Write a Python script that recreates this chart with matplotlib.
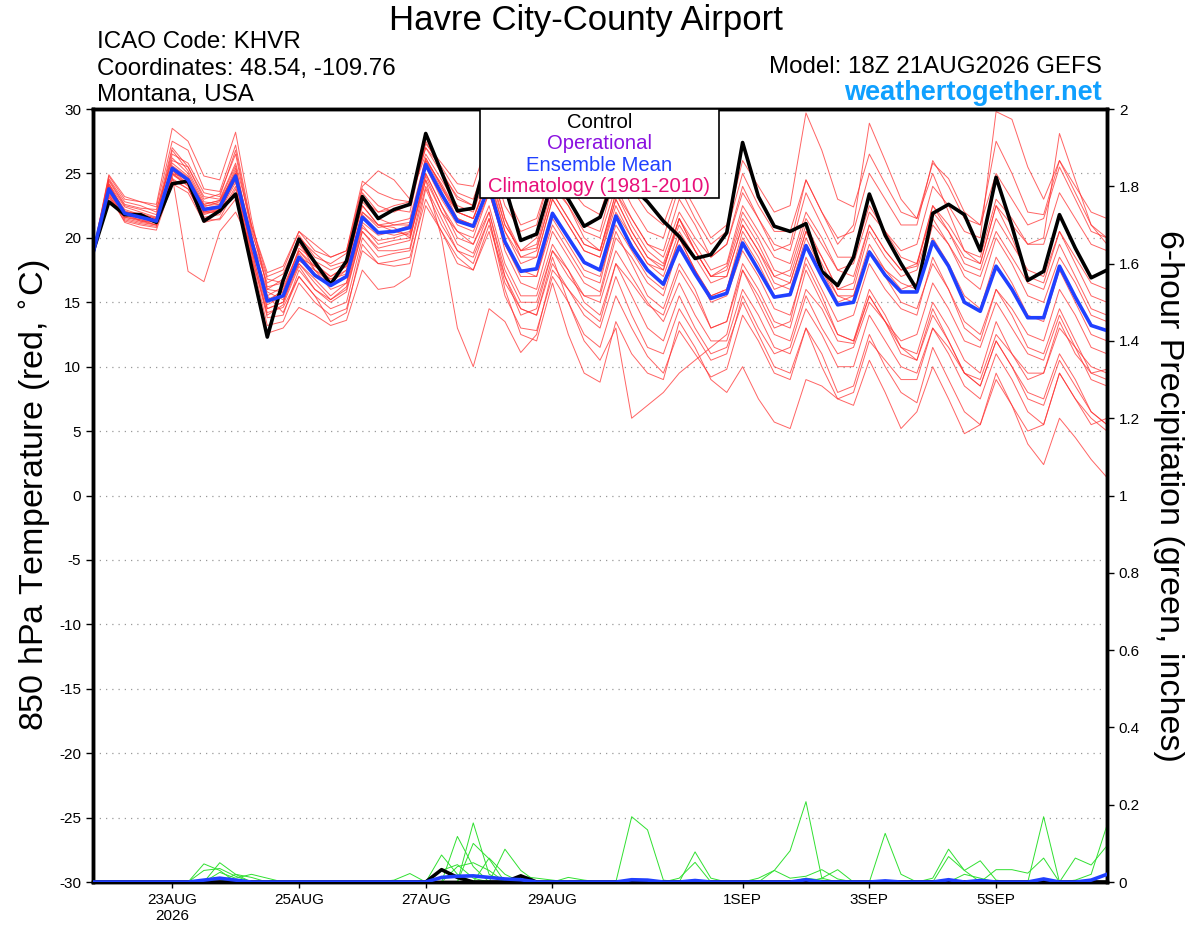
import numpy as np
import pandas as pd
import matplotlib
matplotlib.use('Agg')
import matplotlib.pyplot as plt
from matplotlib.patches import Rectangle

plt.rcParams['font.family'] = ['Liberation Sans', 'DejaVu Sans']
plt.rcParams['axes.unicode_minus'] = False

# 6-hourly forecast times, 18Z 21AUG2026 .. 18Z 06SEP2026
times = pd.date_range('2026-08-21 18:00', periods=65, freq='6h')

tick_dates = ['2026-08-23', '2026-08-25', '2026-08-27', '2026-08-29',
              '2026-09-01', '2026-09-03', '2026-09-05']
tick_labels = ['23AUG\n2026', '25AUG', '27AUG', '29AUG', '1SEP', '3SEP', '5SEP']

# control run, 850 hPa temperature (C)
control_t = [18.9, 22.8, 21.8, 21.8, 21.2, 24.2, 24.4, 21.3, 22.1, 23.4, 17.8,
             12.3, 16.7, 19.9, 18.1, 16.4, 18.2, 23.2, 21.5, 22.2, 22.6,
             28.1, 25.1, 22.1, 22.3, 27.0, 24.0, 19.8, 20.3, 24.5, 23.0, 20.9, 21.6, 25.0, 24.0,
             22.8, 21.3, 20.1, 18.4, 18.7, 20.4,
             27.4, 23.2, 20.9, 20.5, 21.1, 17.4, 16.3, 18.5, 23.4, 20.2, 18.0, 16.0,
             21.9, 22.6, 21.8, 19.0, 24.7, 20.9, 16.7, 17.4, 21.8, 19.2, 16.9, 17.5]

# ensemble mean, 850 hPa temperature (C)
mean_t = [18.8, 23.8, 21.9, 21.6, 21.3, 25.4, 24.5, 22.2, 22.4, 24.8, 19.8,
          15.1, 15.5, 18.5, 17.1, 16.3, 17.0, 21.6, 20.4, 20.5, 20.8,
          25.7, 23.4, 21.3, 20.9, 24.0, 19.7, 17.4, 17.6, 21.9, 20.0, 18.1, 17.5, 21.7, 19.3,
          17.5, 16.4, 19.3, 17.2, 15.3, 15.7,
          19.6, 17.5, 15.4, 15.6, 19.4, 17.0, 14.8, 15.0, 18.9, 17.1, 15.8, 15.8,
          19.7, 17.8, 15.0, 14.3, 17.8, 16.0, 13.8, 13.8, 17.8, 15.4, 13.2, 12.8]

# ensemble members, 850 hPa temperature (C)
members_t = [
    [18.9, 24.6, 22.8, 22.5, 22.0, 27.0, 25.5, 23.0, 23.4, 26.5, 20.5,
     16.8, 16.5, 20.2, 18.5, 18.0, 18.8, 23.8, 22.5, 22.0, 22.6,
     27.3, 25.8, 24.2, 24.0, 27.8, 23.5, 21.0, 21.5, 25.4, 24.0, 22.5, 21.8, 26.0, 23.8, 22.0, 21.0, 24.5, 22.3, 20.0, 21.0,
     26.0, 24.0, 22.0, 22.5, 29.7, 26.8, 23.0, 22.4, 26.5, 24.2, 22.0, 21.5, 25.8, 24.6, 22.0, 21.0, 27.5, 25.0, 22.0, 21.8, 26.0, 23.5, 21.0, 20.0],
    [18.7, 23.2, 21.3, 21.0, 20.8, 24.6, 23.8, 21.6, 21.8, 24.0, 18.5,
     13.2, 13.5, 16.5, 15.0, 14.0, 14.5, 19.0, 18.0, 18.2, 18.5,
     23.0, 20.5, 18.5, 17.5, 20.5, 15.5, 13.0, 12.8, 17.0, 15.0, 12.5, 11.5, 15.5, 13.0, 10.8, 9.5, 12.8, 11.0, 9.2, 9.8,
     14.0, 12.0, 9.5, 9.0, 13.0, 11.0, 8.0, 8.5, 12.5, 10.0, 8.0, 7.2, 11.5, 9.0, 6.5, 5.5, 9.5, 7.0, 4.0, 2.4, 6.0, 4.5, 2.8, 1.4],
    [18.8, 24.2, 22.0, 21.9, 21.5, 25.8, 24.8, 22.5, 22.6, 25.2, 20.0,
     14.5, 15.0, 18.0, 16.8, 15.5, 16.5, 21.0, 19.5, 19.8, 20.0,
     24.8, 22.0, 19.5, 18.8, 22.0, 17.0, 14.5, 14.0, 18.5, 15.0, 12.0, 10.5, 13.0, 6.0, 7.0, 8.0, 9.5, 10.5, 11.5, 12.5,
     17.5, 15.0, 12.5, 12.0, 16.0, 14.5, 12.0, 11.8, 15.5, 13.5, 11.5, 11.0, 15.0, 13.0, 10.5, 9.5, 13.5, 11.0, 9.0, 9.5, 13.5, 11.0, 9.5, 9.8],
    [18.8, 23.5, 21.5, 21.2, 21.0, 24.8, 17.4, 16.6, 20.5, 22.0, 19.5,
     16.0, 16.8, 19.5, 18.0, 17.0, 17.8, 22.5, 21.0, 21.2, 21.5,
     26.2, 24.0, 22.0, 21.5, 24.5, 20.5, 18.0, 18.5, 23.0, 21.0, 19.0, 18.5, 23.0, 20.5, 18.5, 17.8, 21.0, 19.0, 17.0, 17.8,
     22.0, 20.0, 17.5, 17.0, 21.0, 18.5, 16.0, 16.5, 21.0, 19.0, 17.5, 17.8, 22.5, 20.5, 18.0, 17.5, 21.5, 19.5, 17.5, 17.0, 20.5, 18.5, 16.5, 16.0],
    [18.9, 24.0, 22.2, 21.8, 21.4, 25.2, 24.2, 22.0, 22.2, 24.5, 19.0,
     15.8, 15.2, 18.2, 17.5, 16.8, 17.2, 22.0, 21.0, 20.8, 20.0,
     24.5, 20.0, 13.0, 10.0, 14.5, 13.5, 11.1, 12.5, 17.5, 16.0, 14.5, 13.5, 18.0, 16.5, 14.8, 14.0, 17.5, 15.5, 13.0, 13.5,
     18.0, 16.0, 13.5, 13.0, 17.5, 15.0, 12.5, 12.0, 16.0, 14.0, 11.5, 10.5, 14.5, 12.0, 9.5, 8.5, 12.0, 10.0, 8.0, 7.5, 11.0, 9.0, 6.5, 5.5],
    [18.8, 23.6, 21.8, 21.5, 21.2, 25.0, 24.6, 22.4, 22.8, 25.0, 20.2,
     15.5, 14.2, 17.0, 15.5, 14.5, 15.0, 20.0, 18.5, 18.8, 19.0,
     24.0, 21.5, 19.0, 18.0, 21.5, 16.0, 12.5, 12.0, 16.5, 12.5, 9.5, 8.8, 13.5, 11.0, 9.5, 9.0, 13.5, 11.5, 9.0, 8.0,
     10.0, 7.5, 5.7, 5.2, 9.0, 8.5, 7.5, 8.0, 12.0, 10.5, 9.0, 9.0, 13.0, 11.5, 9.5, 9.0, 12.5, 11.0, 9.5, 9.5, 13.0, 11.5, 10.0, 9.5],
    [18.7, 24.4, 22.5, 22.2, 21.8, 26.2, 25.0, 22.6, 22.9, 25.6, 19.8,
     15.0, 16.0, 19.0, 17.8, 16.8, 17.5, 22.0, 20.8, 21.0, 21.2,
     26.0, 24.2, 22.0, 21.5, 25.0, 21.0, 19.0, 19.2, 23.5, 21.5, 19.5, 19.0, 23.5, 21.0, 19.0, 18.0, 21.5, 19.5, 17.5, 18.0,
     22.5, 20.5, 18.5, 18.0, 22.0, 20.0, 17.5, 18.0, 22.0, 20.5, 19.0, 19.5, 24.0, 22.5, 20.5, 20.0, 29.8, 29.2, 25.5, 23.0, 26.0, 24.0, 22.0, 21.5],
    [18.8, 24.0, 22.0, 21.7, 21.6, 26.5, 25.8, 23.5, 23.2, 26.8, 20.8,
     16.2, 16.5, 19.8, 17.5, 16.5, 17.5, 23.0, 22.0, 22.5, 22.8,
     27.0, 25.0, 23.2, 22.5, 26.0, 21.5, 19.0, 19.5, 24.0, 22.5, 20.0, 19.0, 23.5, 21.5, 19.5, 18.5, 22.0, 20.0, 18.5, 19.5,
     24.0, 21.5, 19.0, 19.5, 24.5, 22.0, 19.5, 21.0, 28.9, 26.0, 23.0, 21.5, 25.0, 22.0, 19.0, 18.0, 22.5, 20.0, 17.0, 16.5, 20.5, 18.0, 15.5, 15.0],
    [18.9, 23.9, 21.7, 21.4, 21.2, 25.6, 24.7, 22.0, 22.0, 24.3, 19.2,
     14.0, 14.8, 17.8, 16.0, 15.0, 15.8, 20.5, 19.2, 19.5, 19.8,
     25.0, 22.5, 20.0, 19.5, 22.5, 18.0, 15.5, 15.5, 19.5, 17.5, 15.0, 14.0, 18.0, 15.5, 13.0, 12.0, 15.5, 13.0, 11.0, 11.5,
     15.0, 12.5, 10.0, 9.5, 13.0, 10.0, 7.5, 7.0, 10.5, 8.0, 5.2, 6.5, 10.0, 7.5, 4.8, 5.5, 9.0, 7.0, 5.0, 5.5, 9.5, 7.5, 6.0, 5.0],
    [18.8, 23.3, 21.6, 21.4, 21.0, 25.0, 24.0, 21.8, 22.2, 24.6, 19.6,
     15.2, 15.8, 18.8, 17.2, 16.5, 17.0, 21.8, 20.5, 20.2, 20.5,
     25.5, 23.0, 21.0, 20.5, 23.5, 19.5, 17.5, 17.5, 22.0, 20.0, 18.0, 17.5, 22.0, 20.0, 18.0, 17.0, 20.5, 18.5, 16.5, 17.0,
     21.0, 19.0, 17.0, 17.5, 21.5, 19.5, 17.5, 17.0, 21.0, 19.0, 17.5, 18.0, 22.0, 20.5, 18.5, 18.0, 22.5, 21.0, 19.5, 20.0, 28.1, 24.5, 21.0, 19.5],
    [18.8, 23.4, 21.2, 20.8, 20.6, 24.2, 23.5, 21.2, 21.5, 23.8, 18.8,
     13.8, 14.0, 17.5, 16.0, 15.2, 16.0, 20.5, 19.0, 19.0, 19.2,
     24.5, 22.0, 20.5, 19.5, 22.0, 17.5, 15.0, 15.0, 19.0, 17.0, 15.5, 15.0, 19.0, 17.0, 15.0, 13.5, 16.5, 14.0, 12.0, 12.0,
     16.0, 14.0, 11.5, 11.0, 14.5, 12.5, 10.0, 10.0, 14.0, 12.0, 10.0, 9.5, 13.0, 11.0, 8.5, 7.5, 11.0, 9.0, 6.5, 5.5, 9.5, 7.5, 5.5, 6.0],
    [18.8, 24.8, 23.0, 22.8, 22.4, 27.5, 26.8, 23.8, 23.6, 27.2, 21.0,
     17.0, 17.5, 20.5, 19.0, 18.5, 19.0, 24.4, 23.5, 23.0, 22.8,
     27.0, 25.5, 23.5, 23.0, 26.5, 22.5, 20.5, 21.0, 25.5, 23.0, 21.0, 20.5, 25.0, 22.5, 20.5, 20.0, 24.0, 21.5, 19.5, 20.5,
     25.0, 22.5, 20.5, 20.5, 24.5, 22.0, 20.0, 20.5, 25.0, 23.0, 21.0, 21.0, 26.0, 24.0, 21.5, 21.0, 25.0, 23.0, 21.0, 21.5, 25.5, 23.0, 20.5, 20.0],
    [18.8, 24.2, 22.4, 22.0, 21.6, 26.8, 25.2, 22.8, 22.6, 25.4, 20.2,
     14.8, 15.5, 18.0, 16.5, 15.2, 16.2, 20.8, 19.8, 20.0, 20.4,
     25.8, 23.5, 21.5, 21.0, 24.2, 19.0, 16.5, 16.0, 20.5, 18.5, 16.5, 15.8, 20.5, 18.0, 15.5, 14.5, 18.0, 16.0, 13.0, 13.5,
     17.5, 15.5, 13.0, 13.5, 18.5, 16.0, 13.5, 14.0, 18.0, 16.0, 14.5, 14.0, 18.5, 16.0, 13.0, 12.0, 16.0, 14.0, 11.5, 11.0, 14.5, 12.0, 9.5, 9.0],
    [18.7, 23.6, 21.9, 21.3, 21.0, 25.2, 24.4, 22.6, 22.9, 25.0, 20.0,
     16.5, 17.2, 20.0, 18.8, 17.8, 18.2, 22.8, 21.5, 21.0, 21.0,
     26.0, 23.8, 22.0, 21.5, 24.8, 20.5, 18.5, 19.0, 23.5, 21.5, 19.5, 19.0, 23.0, 20.5, 18.5, 17.5, 21.5, 19.0, 17.0, 17.5,
     21.5, 19.5, 17.0, 16.5, 20.5, 18.0, 15.5, 15.0, 19.0, 17.5, 16.5, 16.0, 20.0, 18.0, 15.5, 14.5, 18.5, 16.5, 14.0, 13.5, 17.5, 15.0, 12.5, 12.0],
    [18.8, 23.7, 21.4, 21.1, 20.9, 24.9, 24.1, 21.9, 22.1, 24.6, 18.2,
     12.6, 13.0, 14.6, 14.0, 13.2, 13.6, 17.5, 16.0, 16.2, 17.0,
     22.5, 20.5, 18.0, 17.5, 21.0, 17.0, 14.0, 14.5, 19.0, 17.5, 15.5, 15.5, 20.0, 18.5, 16.5, 15.5, 19.5, 17.5, 15.5, 16.0,
     20.0, 18.0, 15.5, 15.5, 19.5, 17.5, 15.0, 15.5, 19.5, 17.5, 16.0, 16.5, 21.0, 19.5, 17.5, 17.0, 20.5, 18.5, 16.5, 16.0, 19.5, 17.0, 14.5, 14.0],
    [18.8, 24.5, 22.6, 22.3, 22.2, 26.0, 25.5, 23.2, 23.0, 25.8, 21.0,
     17.3, 17.8, 20.5, 19.5, 18.5, 19.0, 24.0, 25.2, 24.5, 23.0,
     26.5, 24.5, 22.5, 22.0, 25.5, 21.0, 19.0, 20.0, 24.5, 22.5, 20.5, 20.0, 24.0, 21.5, 19.5, 19.0, 23.0, 21.0, 18.5, 19.5,
     23.5, 21.5, 19.5, 19.0, 23.5, 21.0, 18.5, 18.5, 22.5, 20.5, 18.5, 18.0, 22.5, 21.0, 19.0, 18.5, 23.0, 21.5, 19.5, 19.5, 23.5, 21.5, 19.5, 19.0],
    [18.8, 23.1, 21.6, 21.3, 21.2, 24.5, 23.8, 21.4, 21.4, 23.0, 18.5,
     14.2, 14.6, 17.0, 15.5, 13.5, 14.2, 19.5, 18.0, 17.8, 18.0,
     23.8, 21.0, 19.0, 18.5, 21.5, 16.5, 14.5, 14.0, 18.0, 16.0, 14.0, 13.0, 17.0, 14.0, 11.5, 11.0, 14.5, 12.5, 10.5, 11.0,
     15.5, 13.0, 11.0, 11.5, 15.5, 13.0, 11.0, 11.5, 15.0, 13.5, 12.0, 12.5, 16.5, 14.5, 12.0, 11.5, 15.0, 13.0, 11.0, 10.5, 14.0, 11.5, 9.0, 8.5],
    [18.8, 24.9, 23.2, 22.8, 22.6, 28.5, 27.5, 24.8, 24.5, 28.2, 21.5,
     16.0, 15.8, 19.2, 18.2, 17.5, 18.0, 23.5, 22.0, 22.2, 22.0,
     27.5, 25.2, 23.0, 22.5, 25.8, 21.5, 18.5, 18.5, 23.0, 21.0, 19.0, 18.5, 22.5, 20.0, 18.0, 17.5, 21.5, 19.0, 17.0, 17.0,
     21.0, 19.0, 16.5, 16.0, 20.0, 17.5, 15.5, 15.5, 19.0, 17.0, 15.0, 14.5, 18.0, 16.0, 13.5, 12.5, 16.0, 14.5, 12.5, 12.0, 16.0, 14.0, 11.5, 11.0],
    [18.9, 24.1, 22.1, 21.7, 21.4, 25.5, 24.6, 22.3, 22.5, 25.0, 19.8,
     15.5, 16.2, 19.0, 17.5, 16.0, 16.5, 21.2, 20.2, 20.5, 21.0,
     26.2, 24.0, 21.5, 21.0, 24.0, 19.5, 17.0, 17.0, 21.5, 19.5, 17.5, 17.0, 21.0, 19.0, 17.0, 16.0, 20.0, 17.5, 15.0, 15.5,
     19.0, 17.0, 14.5, 14.0, 18.0, 15.5, 12.5, 12.0, 15.5, 13.5, 11.0, 10.5, 14.0, 12.0, 9.5, 8.5, 12.0, 10.0, 7.5, 7.0, 10.5, 8.5, 6.5, 5.5],
    [18.8, 23.8, 21.8, 21.6, 21.5, 25.0, 24.2, 22.0, 22.3, 24.8, 19.0,
     14.5, 15.0, 18.5, 17.8, 17.0, 17.8, 22.5, 21.0, 20.5, 20.2,
     25.0, 22.5, 20.5, 20.0, 23.5, 19.5, 17.5, 17.0, 21.0, 19.0, 17.0, 16.5, 21.5, 19.5, 17.5, 16.5, 20.0, 17.5, 15.5, 16.0,
     20.5, 18.5, 16.0, 16.5, 20.5, 18.5, 16.0, 16.0, 20.5, 18.5, 17.0, 17.5, 21.5, 19.5, 17.0, 16.0, 20.0, 18.0, 15.5, 15.0, 18.5, 16.5, 14.0, 13.5],
]

# 6-hour precipitation (inches): nonzero steps only, {step: amount}
members_p = [
    {7: 0.047, 8: 0.03, 45: 0.01, 46: 0.005},
    {8: 0.05, 9: 0.02, 42: 0.01, 43: 0.03, 44: 0.01, 45: 0.015, 46: 0.032, 47: 0.008},
    {7: 0.03, 8: 0.035, 9: 0.015, 46: 0.01, 47: 0.032},
    {8: 0.025, 9: 0.01, 10: 0.02, 11: 0.01, 50: 0.126, 51: 0.02},
    {9: 0.02, 10: 0.012, 53: 0.01, 54: 0.085, 55: 0.03},
    {19: 0.005, 20: 0.022, 54: 0.066, 55: 0.03, 56: 0.055, 57: 0.005},
    {22: 0.07, 23: 0.02, 55: 0.02, 56: 0.01},
    {23: 0.118, 24: 0.04, 57: 0.032, 58: 0.032, 59: 0.023, 60: 0.062},
    {24: 0.153, 25: 0.02, 60: 0.169, 62: 0.062, 63: 0.044, 64: 0.094},
    {24: 0.10, 25: 0.06, 62: 0.005, 63: 0.02, 64: 0.147},
    {25: 0.062, 26: 0.02},
    {26: 0.085, 27: 0.03},
    {23: 0.04, 24: 0.05, 25: 0.03},
    {22: 0.03, 23: 0.045, 24: 0.01},
    {27: 0.015, 28: 0.01, 29: 0.005},
    {30: 0.012, 31: 0.005},
    {34: 0.169, 35: 0.135, 36: 0.005},
    {38: 0.078, 39: 0.01},
    {37: 0.01, 38: 0.051},
    {43: 0.03, 44: 0.081, 45: 0.208, 46: 0.01},
]
control_p = {22: 0.032, 23: 0.012, 27: 0.016}
mean_p = {7: 0.005, 8: 0.01, 9: 0.005, 22: 0.012, 23: 0.015, 24: 0.016, 25: 0.012,
          26: 0.008, 27: 0.006, 34: 0.006, 35: 0.005, 38: 0.004, 45: 0.006,
          50: 0.003, 54: 0.006, 56: 0.004, 60: 0.008, 63: 0.005, 64: 0.02}


def precip_series(events):
    p = np.zeros(len(times))
    for k, v in events.items():
        p[k] = v
    return p


fig = plt.figure(figsize=(12, 9.27), dpi=100)
ax = fig.add_axes([0.0775, 0.0485, 0.845, 0.8339])
ax2 = ax.twinx()

# temperature
for m in members_t:
    ax.plot(times, m, color='#ff3030', lw=0.7, alpha=0.75, zorder=2)
ax.plot(times, control_t, color='black', lw=2.6, zorder=4)
ax.plot(times, mean_t, color='#2040ff', lw=2.6, zorder=5)

# precipitation
for ev in members_p:
    ax2.plot(times, precip_series(ev), color='#30e030', lw=0.7, zorder=2)
ax2.plot(times, precip_series(control_p), color='black', lw=2.6, zorder=4)
ax2.plot(times, precip_series(mean_p), color='#2040ff', lw=2.6, zorder=5)

ax.set_xlim(times[0], times[-1])
ax.set_ylim(-30, 30)
ax.set_yticks(np.arange(-30, 31, 5))
ax2.set_ylim(0, 2)
ax2.set_yticks(np.arange(0, 2.01, 0.2))
ax2.set_yticklabels(['0', '0.2', '0.4', '0.6', '0.8', '1', '1.2', '1.4', '1.6', '1.8', '2'])

ax.set_xticks(pd.to_datetime(tick_dates))
ax.set_xticklabels(tick_labels, fontsize=11)
ax.tick_params(axis='y', labelsize=11, length=5, width=1, direction='out')
ax2.tick_params(axis='y', labelsize=11, length=5, width=1, direction='out')
ax.tick_params(axis='x', length=4, width=1, direction='out', pad=4)

ax.yaxis.grid(True, linestyle=(0, (1, 4)), color='#999999', lw=0.9)
ax.set_axisbelow(True)
for a in (ax, ax2):
    for s in a.spines.values():
        s.set_linewidth(2.5)

ax.set_ylabel('850 hPa Temperature (red, $^{\\circ}$C)', fontsize=24.5, labelpad=4)
ax2.set_ylabel('6-hour Precipitation (green, inches)', fontsize=24.5, rotation=270, labelpad=32)

# header text
fig.text(0.488, 0.978, 'Havre City-County Airport', ha='center', va='center', fontsize=25)
fig.text(0.081, 0.955, 'ICAO Code: KHVR', ha='left', va='center', fontsize=17.4)
fig.text(0.081, 0.926, 'Coordinates: 48.54, -109.76', ha='left', va='center', fontsize=17.4)
fig.text(0.081, 0.897, 'Montana, USA', ha='left', va='center', fontsize=17.4)
fig.text(0.918, 0.928, 'Model: 18Z 21AUG2026 GEFS', ha='right', va='center', fontsize=17.4)
fig.text(0.918, 0.900, 'weathertogether.net', ha='right', va='center', fontsize=19.5,
         fontweight='bold', color='#10a0ff')

# legend box
fig.add_artist(Rectangle((0.400, 0.7864), 0.199, 0.096, transform=fig.transFigure,
                         facecolor='white', edgecolor='black', lw=1.2, zorder=10))
leg_items = [('Control', 'black'), ('Operational', '#8a10e0'),
             ('Ensemble Mean', '#2040ff'), ('Climatology (1981-2010)', '#e8107a')]
for i, (txt, col) in enumerate(leg_items):
    fig.text(0.4995, 0.868 - i * 0.0231, txt, ha='center', va='center', fontsize=14.6,
             color=col, zorder=11)

fig.savefig('out.png', dpi=100)
